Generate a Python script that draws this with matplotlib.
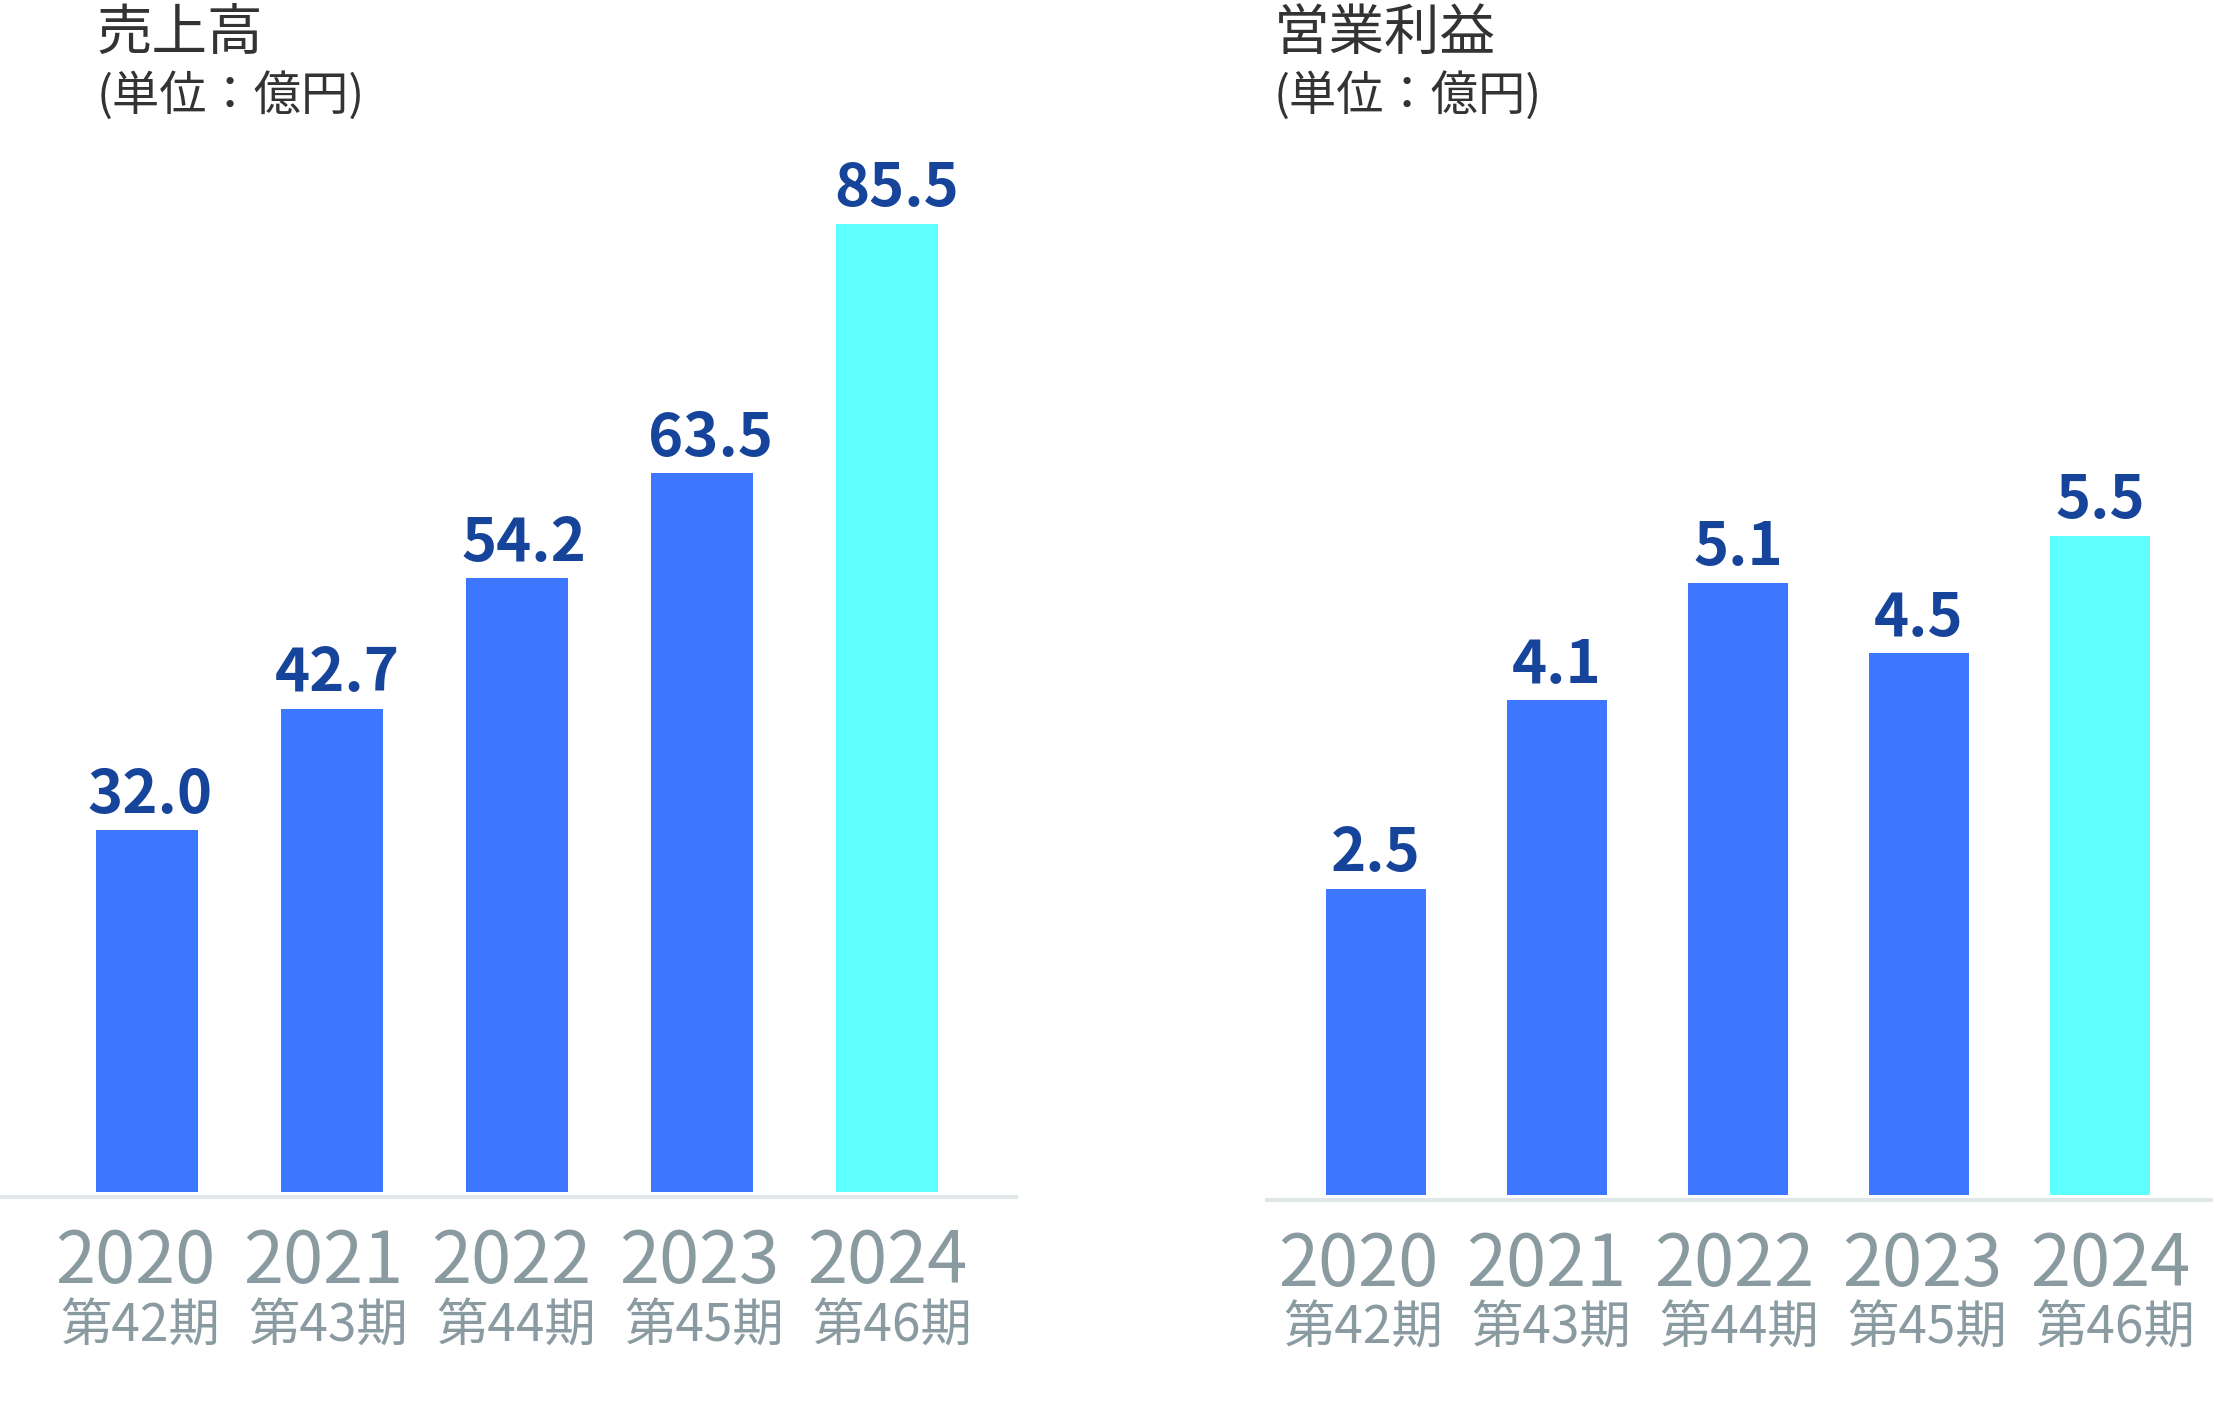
import matplotlib
matplotlib.use("Agg")
import matplotlib.pyplot as plt

plt.rcParams['font.family'] = ['Noto Sans CJK JP', 'DejaVu Sans']

years = ["2020", "2021", "2022", "2023", "2024"]
periods = ["第42期", "第43期", "第44期", "第45期", "第46期"]
sales = [32.0, 42.7, 54.2, 63.5, 85.5]
profit = [2.5, 4.1, 5.1, 4.5, 5.5]
sales_labels = ["32.0", "42.7", "54.2", "63.5", "85.5"]
profit_labels = ["2.5", "4.1", "5.1", "4.5", "5.5"]

W, H = 2213, 1401
PT = 0.72  # points per pixel at 100 dpi
BLUE = "#3d76ff"
CYAN = "#5effff"
LABEL = "#17449b"
TICK = "#8a9aa1"
TITLE = "#333333"
BASE = "#e1e7e9"

fig = plt.figure(figsize=(W / 100, H / 100), dpi=100)


def make_panel(left_px, right_px, base_px, top_px, xlim, ylim, bar_bottom,
               values, labels, title, title_x_px, value_dx, year_dx, period_dx):
    ax = fig.add_axes([left_px / W, 1 - base_px / H,
                       (right_px - left_px) / W, (base_px - top_px) / H])
    colors = [BLUE] * (len(values) - 1) + [CYAN]
    x = list(range(len(values)))
    heights = [v - bar_bottom for v in values]
    ax.bar(x, heights, bottom=bar_bottom, width=0.55, color=colors, zorder=2)
    ax.set_xlim(*xlim)
    ax.set_ylim(*ylim)
    ax.axhline(ylim[0], color=BASE, lw=3, zorder=1, clip_on=False)
    for s in ax.spines.values():
        s.set_visible(False)
    ax.set_xticks([])
    ax.set_yticks([])
    ax.patch.set_alpha(0)
    for i, (v, lab) in enumerate(zip(values, labels)):
        ax.annotate(lab, xy=(i, v), xytext=(value_dx(i) * PT, 12.5),
                    textcoords='offset points',
                    ha='center', va='baseline', fontsize=43, fontweight='bold',
                    color=LABEL)
        ax.annotate(years[i], xy=(i, 0), xycoords=('data', 'axes fraction'),
                    xytext=(year_dx(i) * PT, -62), textcoords='offset points',
                    ha='center', va='baseline', fontsize=52, color=TICK)
        ax.annotate(periods[i], xy=(i, 0), xycoords=('data', 'axes fraction'),
                    xytext=(period_dx(i) * PT, -104), textcoords='offset points',
                    ha='center', va='baseline', fontsize=37, color=TICK)
    fig.text(title_x_px / W, 1 - 50 / H, title, fontsize=40, color=TITLE,
             ha='left', va='baseline')
    fig.text(title_x_px / W, 1 - 110 / H, "(単位：億円)", fontsize=34,
             color=TITLE, ha='left', va='baseline')
    return ax


make_panel(0, 1016, 1197, 150, (-0.795, 4.697), (-0.4, 92.0), 0.0,
           sales, sales_labels, "売上高", 97,
           lambda i: 3 + 1.7 * i, lambda i: -12 + 3 * i, lambda i: -7 + 3 * i)
make_panel(1267, 2213, 1199.5, 150, (-0.602, 4.625), (-0.144, 8.78), -0.109,
           profit, profit_labels, "営業利益", 1274,
           lambda i: 0, lambda i: -18 + 7 * i, lambda i: -13 + 7 * i)

fig.savefig("out.png", dpi=100)
